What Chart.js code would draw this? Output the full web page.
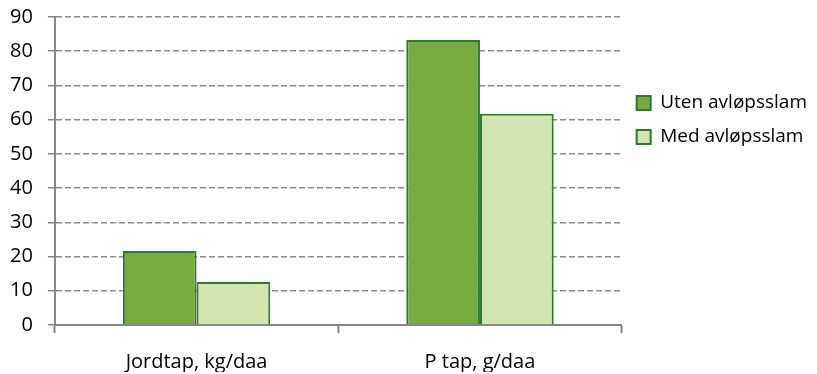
<!doctype html>
<html>
<head>
	<meta charset="utf-8">
	<title>Jordtap og P tap</title>
	<script src="https://cdn.jsdelivr.net/npm/chart.js@4"></script>
	<style>
	html, body { margin: 0; padding: 0; background: #fff; }
	#container { width: 817px; height: 374px; }
	</style>
</head>
<body>
	<div id="container">
		<canvas id="canvas"></canvas>
	</div>
	<script>
		var categories = ['Jordtap, kg/daa', 'P tap, g/daa'];
		var utenSlam = [21.6, 83.3];
		var medSlam = [12.6, 61.7];
		var seriesNames = ['Uten avløpsslam', 'Med avløpsslam'];

		var fontFamily = '"Open Sans", "Noto Sans", sans-serif';

		window.onload = function() {
			var ctx = document.getElementById('canvas').getContext('2d');
			window.myBar = new Chart(ctx, {
				type: 'bar',
				data: {
					labels: categories,
					datasets: [{
						label: seriesNames[0],
						data: utenSlam,
						backgroundColor: '#78aa42',
						borderColor: '#2c7a2c',
						borderWidth: 2
					}, {
						label: seriesNames[1],
						data: medSlam,
						backgroundColor: '#d0e5b0',
						borderColor: '#2c7a2c',
						borderWidth: 2
					}]
				},
				options: {
					responsive: true,
					maintainAspectRatio: false,
					animation: false,
					categoryPercentage: 0.52,
					barPercentage: 1,
					layout: {
						padding: {top: 0, right: 0, left: -5, bottom: 2}
					},
					plugins: {
						tooltip: {enabled: false},
						legend: {
							position: 'right',
							align: 'start',
							title: {
								display: true,
								text: '',
								padding: {top: 34, bottom: 30}
							},
							labels: {
								boxWidth: 14,
								boxHeight: 14,
								padding: 15,
								color: '#000',
								font: {family: fontFamily, size: 19}
							}
						}
					},
					scales: {
						x: {
							afterFit: function(scale) {
								// tick mark + gap + one line of label
								scale.height = 47;
							},
							grid: {
								drawOnChartArea: false,
								drawTicks: true,
								tickLength: 8,
								tickColor: '#868686',
								tickWidth: 2
							},
							border: {color: '#868686', width: 2},
							ticks: {
								color: '#000',
								padding: 19,
								font: {family: fontFamily, size: 20, lineHeight: 1}
							}
						},
						y: {
							min: 0,
							max: 90,
							afterFit: function(scale) {
								// keep the label gap from pushing the plot down
								scale.paddingTop = 17;
								scale.paddingBottom = 0;
							},
							grid: {
								color: '#8c8c8c',
								lineWidth: 1.5,
								tickLength: 7,
								tickColor: '#868686',
								tickBorderDash: []
							},
							border: {color: '#868686', width: 2, dash: [6, 3]},
							ticks: {
								stepSize: 10,
								color: '#000',
								padding: 15,
								font: {family: fontFamily, size: 20, lineHeight: 1}
							}
						}
					}
				}
			});
		};
	</script>
</body>
</html>
